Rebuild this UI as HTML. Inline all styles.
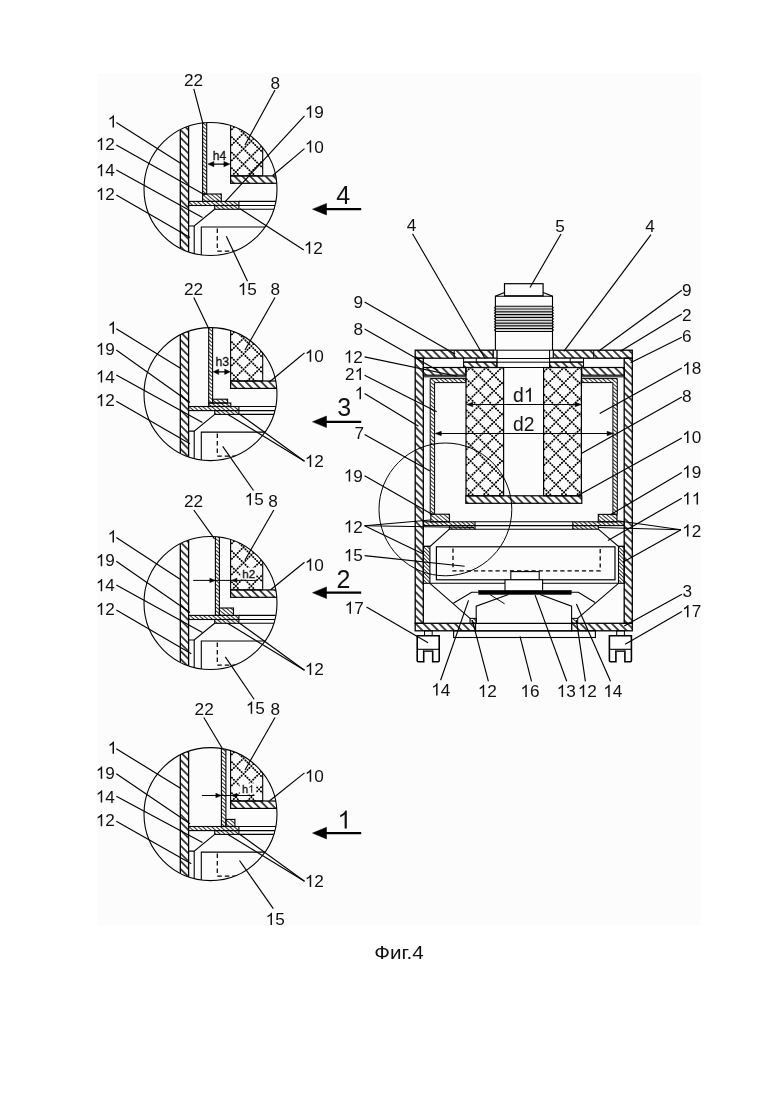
<!DOCTYPE html>
<html><head><meta charset="utf-8"><title>Фиг.4</title>
<style>
html,body{margin:0;padding:0;background:#fff;width:780px;height:1103px;overflow:hidden;position:relative}
svg text{font-family:"Liberation Sans",sans-serif;stroke:none;fill:#111}
svg{filter:grayscale(1)}
</style></head><body>
<svg width="780" height="1103" viewBox="0 0 780 1103" style="position:absolute;left:0;top:0" stroke="#000" fill="#000"><defs>
<pattern id="hm" patternUnits="userSpaceOnUse" width="10" height="5.55" patternTransform="rotate(45)"><line x1="0" y1="2.77" x2="10" y2="2.77" stroke="#000" stroke-width="1.4"/></pattern>
<pattern id="hd" patternUnits="userSpaceOnUse" width="10" height="5.5" patternTransform="rotate(45)"><line x1="0" y1="2.75" x2="10" y2="2.75" stroke="#000" stroke-width="1.4"/></pattern>
<pattern id="hf" patternUnits="userSpaceOnUse" width="10" height="2.9" patternTransform="rotate(40)"><line x1="0" y1="1.45" x2="10" y2="1.45" stroke="#000" stroke-width="0.8"/></pattern>
<pattern id="hf2" patternUnits="userSpaceOnUse" width="10" height="2.6" patternTransform="rotate(45)"><line x1="0" y1="1.3" x2="10" y2="1.3" stroke="#000" stroke-width="0.8"/></pattern>
<pattern id="xm" patternUnits="userSpaceOnUse" x="478.3" y="375.3" width="15.7" height="15.7"><path d="M0 0 L15.7 15.7 M15.7 0 L0 15.7" stroke="#000" stroke-width="1.35" stroke-linecap="round" stroke-dasharray="0.35 1.87" fill="none"/></pattern>
<pattern id="xd" patternUnits="userSpaceOnUse" x="236" y="130" width="13.5" height="13.5"><path d="M0 0 L13.5 13.5 M13.5 0 L0 13.5" stroke="#000" stroke-width="1.35" stroke-dasharray="1.5 1.0" fill="none"/></pattern>
</defs><rect x="97" y="73" width="604" height="853" fill="#fcfcfc" stroke="none"/><g stroke="#000"><clipPath id="c0"><circle cx="210.5" cy="189" r="66.5"/></clipPath>
<g clip-path="url(#c0)">
<rect x="180.3" y="120.5" width="8.3" height="137" fill="url(#hd)" stroke-width="1.3"/>
<rect x="188.6" y="201.4" width="50.3" height="4.1" fill="url(#hf)" stroke-width="1.1"/>
<line x1="238.9" y1="201.4" x2="279" y2="201.4" stroke-width="1.1"/>
<line x1="238.9" y1="205.5" x2="279" y2="205.5" stroke-width="1.1"/>
<rect x="214.7" y="205.5" width="24.2" height="3.8" fill="url(#hf)" stroke-width="1.1"/>
<line x1="238.9" y1="209.3" x2="279" y2="209.3" stroke-width="1.1"/>
<polyline points="188.6,226 194.2,226 214.7,209.3" fill="none" stroke-width="1.1"/>
<line x1="194.2" y1="226" x2="194.2" y2="257.5" stroke-width="1.1"/>
<polyline points="201.3,257.5 201.3,227 279,227" fill="none" stroke-width="1.1"/>
<line x1="217.3" y1="228.4" x2="217.3" y2="251" stroke-width="1.25" stroke-dasharray="4.5 3"/>
<line x1="217.3" y1="251" x2="240" y2="251" stroke-width="1.25" stroke-dasharray="4.5 3"/>
<clipPath id="xc1"><rect x="230.6" y="120.5" width="32.1" height="55.4"/></clipPath>
<path clip-path="url(#xc1)" d="M189.2 17L293.7 121.5M189.2 32.5L293.7 137M189.2 48L293.7 152.5M189.2 63.5L293.7 168M189.2 79L293.7 183.5M189.2 94.5L293.7 199M189.2 110L293.7 214.5M189.2 125.5L293.7 230M189.2 141L293.7 245.5M189.2 156.5L293.7 261M189.2 141L293.7 36.5M189.2 156.5L293.7 52M189.2 172L293.7 67.5M189.2 187.5L293.7 83M189.2 203L293.7 98.5M189.2 218.5L293.7 114M189.2 234L293.7 129.5M189.2 249.5L293.7 145M189.2 265L293.7 160.5" fill="none" stroke-width="1.8" stroke-linecap="round" stroke-dasharray="0.35 2.39"/>
<rect x="230.6" y="120.5" width="32.1" height="55.4" fill="none" stroke-width="1.1"/>
<rect x="230.6" y="175.9" width="48.4" height="7.4" fill="url(#hd)" stroke-width="1.2"/>
<rect x="202.6" y="120.5" width="4.1" height="73.5" fill="url(#hf)" stroke-width="1.1"/>
<rect x="202.6" y="194" width="18.7" height="7.4" fill="url(#hf)" stroke-width="1.1"/>
<line x1="210" y1="164.1" x2="228" y2="164.1" stroke-width="1.2"/>
<polygon points="207.9,164.1 213.9,161.5 213.9,166.7" fill="#000" stroke-width="0.5"/>
<polygon points="229.9,164.1 223.9,166.7 223.9,161.5" fill="#000" stroke-width="0.5"/>
<text x="212.8" y="159.5" font-size="12.0" text-anchor="start" style="stroke:#111;stroke-width:0.3px">h4</text>
</g>
<circle cx="210.5" cy="189" r="66.5" fill="none" stroke-width="1.1"/>
<clipPath id="c1"><circle cx="210.5" cy="394.1" r="66.5"/></clipPath>
<g clip-path="url(#c1)">
<rect x="180.3" y="325.6" width="8.3" height="137" fill="url(#hd)" stroke-width="1.3"/>
<rect x="188.6" y="406.5" width="50.3" height="4.1" fill="url(#hf)" stroke-width="1.1"/>
<line x1="238.9" y1="406.5" x2="279" y2="406.5" stroke-width="1.1"/>
<line x1="238.9" y1="410.6" x2="279" y2="410.6" stroke-width="1.1"/>
<rect x="214.7" y="410.6" width="24.2" height="3.8" fill="url(#hf)" stroke-width="1.1"/>
<line x1="238.9" y1="414.4" x2="279" y2="414.4" stroke-width="1.1"/>
<polyline points="188.6,431.1 194.2,431.1 214.7,414.4" fill="none" stroke-width="1.1"/>
<line x1="194.2" y1="431.1" x2="194.2" y2="462.6" stroke-width="1.1"/>
<polyline points="201.3,462.6 201.3,432.1 279,432.1" fill="none" stroke-width="1.1"/>
<line x1="217.3" y1="433.5" x2="217.3" y2="456.1" stroke-width="1.25" stroke-dasharray="4.5 3"/>
<line x1="217.3" y1="456.1" x2="240" y2="456.1" stroke-width="1.25" stroke-dasharray="4.5 3"/>
<clipPath id="xc2"><rect x="230.6" y="325.6" width="32.1" height="55.4"/></clipPath>
<path clip-path="url(#xc2)" d="M189.2 222.1L293.7 326.6M189.2 237.6L293.7 342.1M189.2 253.1L293.7 357.6M189.2 268.6L293.7 373.1M189.2 284.1L293.7 388.6M189.2 299.6L293.7 404.1M189.2 315.1L293.7 419.6M189.2 330.6L293.7 435.1M189.2 346.1L293.7 450.6M189.2 361.6L293.7 466.1M189.2 346.1L293.7 241.6M189.2 361.6L293.7 257.1M189.2 377.1L293.7 272.6M189.2 392.6L293.7 288.1M189.2 408.1L293.7 303.6M189.2 423.6L293.7 319.1M189.2 439.1L293.7 334.6M189.2 454.6L293.7 350.1M189.2 470.1L293.7 365.6" fill="none" stroke-width="1.8" stroke-linecap="round" stroke-dasharray="0.35 2.39"/>
<rect x="230.6" y="325.6" width="32.1" height="55.4" fill="none" stroke-width="1.1"/>
<rect x="230.6" y="381" width="48.4" height="7.4" fill="url(#hd)" stroke-width="1.2"/>
<rect x="208.7" y="325.6" width="3.9" height="77.4" fill="url(#hf)" stroke-width="1.1"/>
<rect x="212.6" y="399.2" width="15" height="3.8" fill="url(#hf)" stroke-width="1.1"/>
<rect x="208.7" y="403" width="22.1" height="3.5" fill="url(#hf)" stroke-width="1.1"/>
<line x1="215" y1="371.8" x2="228.5" y2="371.8" stroke-width="1.2"/>
<polygon points="213.2,371.8 218.7,369.2 218.7,374.4" fill="#000" stroke-width="0.5"/>
<polygon points="230.2,371.8 224.7,374.4 224.7,369.2" fill="#000" stroke-width="0.5"/>
<text x="215.6" y="366.4" font-size="12.2" text-anchor="start" style="stroke:#111;stroke-width:0.3px">h3</text>
</g>
<circle cx="210.5" cy="394.1" r="66.5" fill="none" stroke-width="1.1"/>
<clipPath id="c2"><circle cx="210.5" cy="603" r="66.5"/></clipPath>
<g clip-path="url(#c2)">
<rect x="180.3" y="534.5" width="8.3" height="137" fill="url(#hd)" stroke-width="1.3"/>
<rect x="188.6" y="615.4" width="50.3" height="4.1" fill="url(#hf)" stroke-width="1.1"/>
<line x1="238.9" y1="615.4" x2="279" y2="615.4" stroke-width="1.1"/>
<line x1="238.9" y1="619.5" x2="279" y2="619.5" stroke-width="1.1"/>
<rect x="214.7" y="619.5" width="24.2" height="3.8" fill="url(#hf)" stroke-width="1.1"/>
<line x1="238.9" y1="623.3" x2="279" y2="623.3" stroke-width="1.1"/>
<polyline points="188.6,640 194.2,640 214.7,623.3" fill="none" stroke-width="1.1"/>
<line x1="194.2" y1="640" x2="194.2" y2="671.5" stroke-width="1.1"/>
<polyline points="201.3,671.5 201.3,641 279,641" fill="none" stroke-width="1.1"/>
<line x1="217.3" y1="642.4" x2="217.3" y2="665" stroke-width="1.25" stroke-dasharray="4.5 3"/>
<line x1="217.3" y1="665" x2="240" y2="665" stroke-width="1.25" stroke-dasharray="4.5 3"/>
<clipPath id="xc3"><rect x="230.6" y="534.5" width="32.1" height="55.4"/></clipPath>
<path clip-path="url(#xc3)" d="M189.2 431L293.7 535.5M189.2 446.5L293.7 551M189.2 462L293.7 566.5M189.2 477.5L293.7 582M189.2 493L293.7 597.5M189.2 508.5L293.7 613M189.2 524L293.7 628.5M189.2 539.5L293.7 644M189.2 555L293.7 659.5M189.2 570.5L293.7 675M189.2 555L293.7 450.5M189.2 570.5L293.7 466M189.2 586L293.7 481.5M189.2 601.5L293.7 497M189.2 617L293.7 512.5M189.2 632.5L293.7 528M189.2 648L293.7 543.5M189.2 663.5L293.7 559M189.2 679L293.7 574.5" fill="none" stroke-width="1.8" stroke-linecap="round" stroke-dasharray="0.35 2.39"/>
<rect x="230.6" y="534.5" width="32.1" height="55.4" fill="none" stroke-width="1.1"/>
<rect x="230.6" y="589.9" width="48.4" height="7.4" fill="url(#hd)" stroke-width="1.2"/>
<rect x="215.4" y="534.5" width="4" height="80.9" fill="url(#hf)" stroke-width="1.1"/>
<rect x="219.4" y="608" width="14.1" height="7.4" fill="url(#hf)" stroke-width="1.1"/>
<line x1="193.2" y1="580.4" x2="257" y2="580.4" stroke-width="1.0"/>
<polygon points="215.3,580.4 209.8,582.6 209.8,578.2" fill="#000" stroke-width="0.5"/>
<polygon points="231.5,580.4 237,578.2 237,582.6" fill="#000" stroke-width="0.5"/>
<rect x="240.4" y="568" width="15.8" height="11.4" fill="#fcfcfc" stroke-width="0" stroke="none"/>
<text x="242.3" y="577.7" font-size="11.6" text-anchor="start" style="stroke:#111;stroke-width:0.3px">h2</text>
</g>
<circle cx="210.5" cy="603" r="66.5" fill="none" stroke-width="1.1"/>
<clipPath id="c3"><circle cx="210.5" cy="814.1" r="66.5"/></clipPath>
<g clip-path="url(#c3)">
<rect x="180.3" y="745.6" width="8.3" height="137" fill="url(#hd)" stroke-width="1.3"/>
<rect x="188.6" y="826.5" width="50.3" height="4.1" fill="url(#hf)" stroke-width="1.1"/>
<line x1="238.9" y1="826.5" x2="279" y2="826.5" stroke-width="1.1"/>
<line x1="238.9" y1="830.6" x2="279" y2="830.6" stroke-width="1.1"/>
<rect x="214.7" y="830.6" width="24.2" height="3.8" fill="url(#hf)" stroke-width="1.1"/>
<line x1="238.9" y1="834.4" x2="279" y2="834.4" stroke-width="1.1"/>
<polyline points="188.6,851.1 194.2,851.1 214.7,834.4" fill="none" stroke-width="1.1"/>
<line x1="194.2" y1="851.1" x2="194.2" y2="882.6" stroke-width="1.1"/>
<polyline points="201.3,882.6 201.3,852.1 279,852.1" fill="none" stroke-width="1.1"/>
<line x1="217.3" y1="853.5" x2="217.3" y2="876.1" stroke-width="1.25" stroke-dasharray="4.5 3"/>
<line x1="217.3" y1="876.1" x2="240" y2="876.1" stroke-width="1.25" stroke-dasharray="4.5 3"/>
<clipPath id="xc4"><rect x="230.6" y="745.6" width="32.1" height="55.4"/></clipPath>
<path clip-path="url(#xc4)" d="M189.2 642.1L293.7 746.6M189.2 657.6L293.7 762.1M189.2 673.1L293.7 777.6M189.2 688.6L293.7 793.1M189.2 704.1L293.7 808.6M189.2 719.6L293.7 824.1M189.2 735.1L293.7 839.6M189.2 750.6L293.7 855.1M189.2 766.1L293.7 870.6M189.2 781.6L293.7 886.1M189.2 766.1L293.7 661.6M189.2 781.6L293.7 677.1M189.2 797.1L293.7 692.6M189.2 812.6L293.7 708.1M189.2 828.1L293.7 723.6M189.2 843.6L293.7 739.1M189.2 859.1L293.7 754.6M189.2 874.6L293.7 770.1M189.2 890.1L293.7 785.6" fill="none" stroke-width="1.8" stroke-linecap="round" stroke-dasharray="0.35 2.39"/>
<rect x="230.6" y="745.6" width="32.1" height="55.4" fill="none" stroke-width="1.1"/>
<rect x="230.6" y="801" width="48.4" height="7.4" fill="url(#hd)" stroke-width="1.2"/>
<rect x="221.4" y="745.6" width="4.5" height="80.9" fill="url(#hf)" stroke-width="1.1"/>
<rect x="225.9" y="819.4" width="9" height="7.1" fill="url(#hf)" stroke-width="1.1"/>
<line x1="201.9" y1="795.5" x2="254.4" y2="795.5" stroke-width="1.0"/>
<polygon points="221.3,795.5 215.8,797.7 215.8,793.3" fill="#000" stroke-width="0.5"/>
<polygon points="231.5,795.5 237,793.3 237,797.7" fill="#000" stroke-width="0.5"/>
<rect x="239.6" y="783.3" width="16.6" height="11" fill="#fcfcfc" stroke-width="0" stroke="none"/>
<text x="242" y="792.8" font-size="11.0" style="stroke:#111;stroke-width:0.3px">h</text>
<path d="M763 0H583V1147Q518 1085 412 1023T223 930V1104Q375 1175 489 1276T650 1472H763Z" transform="translate(248.12 792.8) scale(0.00537 -0.00537)" stroke="none" fill="#111"/>
</g>
<circle cx="210.5" cy="814.1" r="66.5" fill="none" stroke-width="1.1"/>
<text x="184" y="86.3" font-size="17.2" text-anchor="start">22</text>
<line x1="193.8" y1="88.8" x2="203" y2="123.8" stroke-width="1.15"/>
<text x="270.6" y="88.8" font-size="17.2" text-anchor="start">8</text>
<line x1="275" y1="90" x2="245" y2="145" stroke-width="1.15"/>
<path d="M763 0H583V1147Q518 1085 412 1023T223 930V1104Q375 1175 489 1276T650 1472H763Z" transform="translate(107.6 127.5) scale(0.00840 -0.00840)" stroke="none" fill="#111"/>
<line x1="116.3" y1="122.5" x2="181.3" y2="163.8" stroke-width="1.15"/>
<path d="M763 0H583V1147Q518 1085 412 1023T223 930V1104Q375 1175 489 1276T650 1472H763Z" transform="translate(95.8 150) scale(0.00840 -0.00840)" stroke="none" fill="#111"/>
<text x="105.36" y="150" font-size="17.2">2</text>
<line x1="116.3" y1="145" x2="205" y2="195" stroke-width="1.15"/>
<path d="M763 0H583V1147Q518 1085 412 1023T223 930V1104Q375 1175 489 1276T650 1472H763Z" transform="translate(95.8 176.3) scale(0.00840 -0.00840)" stroke="none" fill="#111"/>
<text x="105.36" y="176.3" font-size="17.2">4</text>
<line x1="116.3" y1="170" x2="202.5" y2="217.5" stroke-width="1.15"/>
<path d="M763 0H583V1147Q518 1085 412 1023T223 930V1104Q375 1175 489 1276T650 1472H763Z" transform="translate(95.8 200) scale(0.00840 -0.00840)" stroke="none" fill="#111"/>
<text x="105.36" y="200" font-size="17.2">2</text>
<line x1="116.3" y1="195" x2="190" y2="237.5" stroke-width="1.15"/>
<path d="M763 0H583V1147Q518 1085 412 1023T223 930V1104Q375 1175 489 1276T650 1472H763Z" transform="translate(304.8 117.8) scale(0.00840 -0.00840)" stroke="none" fill="#111"/>
<text x="314.36" y="117.8" font-size="17.2">9</text>
<line x1="304.5" y1="115.8" x2="224.8" y2="202.1" stroke-width="1.15"/>
<path d="M763 0H583V1147Q518 1085 412 1023T223 930V1104Q375 1175 489 1276T650 1472H763Z" transform="translate(304.8 152.6) scale(0.00840 -0.00840)" stroke="none" fill="#111"/>
<text x="314.36" y="152.6" font-size="17.2">0</text>
<line x1="304.5" y1="148.6" x2="272.7" y2="175.5" stroke-width="1.15"/>
<path d="M763 0H583V1147Q518 1085 412 1023T223 930V1104Q375 1175 489 1276T650 1472H763Z" transform="translate(303.8 253.8) scale(0.00840 -0.00840)" stroke="none" fill="#111"/>
<text x="313.36" y="253.8" font-size="17.2">2</text>
<line x1="303.8" y1="250" x2="240" y2="208.8" stroke-width="1.15"/>
<path d="M763 0H583V1147Q518 1085 412 1023T223 930V1104Q375 1175 489 1276T650 1472H763Z" transform="translate(237.8 295) scale(0.00840 -0.00840)" stroke="none" fill="#111"/>
<text x="247.36" y="295" font-size="17.2">5</text>
<line x1="247.5" y1="281.3" x2="226.3" y2="236.3" stroke-width="1.15"/>
<text x="184" y="294.5" font-size="17.2" text-anchor="start">22</text>
<line x1="193.8" y1="297.5" x2="208.8" y2="328.8" stroke-width="1.15"/>
<text x="270.6" y="295" font-size="17.2" text-anchor="start">8</text>
<line x1="275" y1="297.5" x2="245" y2="350" stroke-width="1.15"/>
<path d="M763 0H583V1147Q518 1085 412 1023T223 930V1104Q375 1175 489 1276T650 1472H763Z" transform="translate(107.6 333.8) scale(0.00840 -0.00840)" stroke="none" fill="#111"/>
<line x1="116.3" y1="328.8" x2="181.3" y2="368.8" stroke-width="1.15"/>
<path d="M763 0H583V1147Q518 1085 412 1023T223 930V1104Q375 1175 489 1276T650 1472H763Z" transform="translate(95.8 355) scale(0.00840 -0.00840)" stroke="none" fill="#111"/>
<text x="105.36" y="355" font-size="17.2">9</text>
<line x1="116.3" y1="350" x2="190" y2="402.5" stroke-width="1.15"/>
<path d="M763 0H583V1147Q518 1085 412 1023T223 930V1104Q375 1175 489 1276T650 1472H763Z" transform="translate(95.8 382.5) scale(0.00840 -0.00840)" stroke="none" fill="#111"/>
<text x="105.36" y="382.5" font-size="17.2">4</text>
<line x1="116.3" y1="375" x2="202.5" y2="422.5" stroke-width="1.15"/>
<path d="M763 0H583V1147Q518 1085 412 1023T223 930V1104Q375 1175 489 1276T650 1472H763Z" transform="translate(95.8 406.3) scale(0.00840 -0.00840)" stroke="none" fill="#111"/>
<text x="105.36" y="406.3" font-size="17.2">2</text>
<line x1="116.3" y1="401.3" x2="190" y2="443.8" stroke-width="1.15"/>
<path d="M763 0H583V1147Q518 1085 412 1023T223 930V1104Q375 1175 489 1276T650 1472H763Z" transform="translate(304.8 361.8) scale(0.00840 -0.00840)" stroke="none" fill="#111"/>
<text x="314.36" y="361.8" font-size="17.2">0</text>
<line x1="304.5" y1="352.9" x2="269.7" y2="381.7" stroke-width="1.15"/>
<path d="M763 0H583V1147Q518 1085 412 1023T223 930V1104Q375 1175 489 1276T650 1472H763Z" transform="translate(304.8 467.1) scale(0.00840 -0.00840)" stroke="none" fill="#111"/>
<text x="314.36" y="467.1" font-size="17.2">2</text>
<line x1="304.5" y1="461.2" x2="239.7" y2="414.3" stroke-width="1.15"/>
<line x1="304.5" y1="461.2" x2="227.6" y2="414.3" stroke-width="1.15"/>
<path d="M763 0H583V1147Q518 1085 412 1023T223 930V1104Q375 1175 489 1276T650 1472H763Z" transform="translate(244.6 505.3) scale(0.00840 -0.00840)" stroke="none" fill="#111"/>
<text x="254.16" y="505.3" font-size="17.2">5</text>
<line x1="253.5" y1="490.5" x2="222.7" y2="446.3" stroke-width="1.15"/>
<text x="184" y="507" font-size="17.2" text-anchor="start">22</text>
<line x1="193.8" y1="510" x2="214.5" y2="538.8" stroke-width="1.15"/>
<text x="268.2" y="507" font-size="17.2" text-anchor="start">8</text>
<line x1="273.8" y1="510" x2="245" y2="560" stroke-width="1.15"/>
<path d="M763 0H583V1147Q518 1085 412 1023T223 930V1104Q375 1175 489 1276T650 1472H763Z" transform="translate(107.6 542.5) scale(0.00840 -0.00840)" stroke="none" fill="#111"/>
<line x1="116.3" y1="537.5" x2="181.3" y2="580" stroke-width="1.15"/>
<path d="M763 0H583V1147Q518 1085 412 1023T223 930V1104Q375 1175 489 1276T650 1472H763Z" transform="translate(95.8 566.3) scale(0.00840 -0.00840)" stroke="none" fill="#111"/>
<text x="105.36" y="566.3" font-size="17.2">9</text>
<line x1="116.3" y1="561.3" x2="190" y2="612.5" stroke-width="1.15"/>
<path d="M763 0H583V1147Q518 1085 412 1023T223 930V1104Q375 1175 489 1276T650 1472H763Z" transform="translate(95.8 591.3) scale(0.00840 -0.00840)" stroke="none" fill="#111"/>
<text x="105.36" y="591.3" font-size="17.2">4</text>
<line x1="116.3" y1="585" x2="202.5" y2="632.5" stroke-width="1.15"/>
<path d="M763 0H583V1147Q518 1085 412 1023T223 930V1104Q375 1175 489 1276T650 1472H763Z" transform="translate(95.8 615) scale(0.00840 -0.00840)" stroke="none" fill="#111"/>
<text x="105.36" y="615" font-size="17.2">2</text>
<line x1="116.3" y1="610" x2="191.3" y2="653.8" stroke-width="1.15"/>
<path d="M763 0H583V1147Q518 1085 412 1023T223 930V1104Q375 1175 489 1276T650 1472H763Z" transform="translate(304.8 570.8) scale(0.00840 -0.00840)" stroke="none" fill="#111"/>
<text x="314.36" y="570.8" font-size="17.2">0</text>
<line x1="304.5" y1="562.3" x2="270.7" y2="589.7" stroke-width="1.15"/>
<path d="M763 0H583V1147Q518 1085 412 1023T223 930V1104Q375 1175 489 1276T650 1472H763Z" transform="translate(304.8 675.1) scale(0.00840 -0.00840)" stroke="none" fill="#111"/>
<text x="314.36" y="675.1" font-size="17.2">2</text>
<line x1="304.5" y1="670.2" x2="239.7" y2="623.2" stroke-width="1.15"/>
<line x1="304.5" y1="670.2" x2="227.6" y2="623.2" stroke-width="1.15"/>
<text x="194.6" y="714.5" font-size="17.2" text-anchor="start">22</text>
<line x1="203.8" y1="717.5" x2="222.5" y2="748.8" stroke-width="1.15"/>
<path d="M763 0H583V1147Q518 1085 412 1023T223 930V1104Q375 1175 489 1276T650 1472H763Z" transform="translate(245.8 713.8) scale(0.00840 -0.00840)" stroke="none" fill="#111"/>
<text x="255.36" y="713.8" font-size="17.2">5</text>
<line x1="254.1" y1="699.2" x2="225.3" y2="656.9" stroke-width="1.15"/>
<text x="270.6" y="714.5" font-size="17.2" text-anchor="start">8</text>
<line x1="275" y1="717.5" x2="245" y2="770" stroke-width="1.15"/>
<path d="M763 0H583V1147Q518 1085 412 1023T223 930V1104Q375 1175 489 1276T650 1472H763Z" transform="translate(107.6 753.8) scale(0.00840 -0.00840)" stroke="none" fill="#111"/>
<line x1="116.3" y1="748.8" x2="181.3" y2="788.8" stroke-width="1.15"/>
<path d="M763 0H583V1147Q518 1085 412 1023T223 930V1104Q375 1175 489 1276T650 1472H763Z" transform="translate(95.8 778.8) scale(0.00840 -0.00840)" stroke="none" fill="#111"/>
<text x="105.36" y="778.8" font-size="17.2">9</text>
<line x1="116.3" y1="773.8" x2="190" y2="823.8" stroke-width="1.15"/>
<path d="M763 0H583V1147Q518 1085 412 1023T223 930V1104Q375 1175 489 1276T650 1472H763Z" transform="translate(95.8 802.5) scale(0.00840 -0.00840)" stroke="none" fill="#111"/>
<text x="105.36" y="802.5" font-size="17.2">4</text>
<line x1="116.3" y1="796.3" x2="202.5" y2="842.5" stroke-width="1.15"/>
<path d="M763 0H583V1147Q518 1085 412 1023T223 930V1104Q375 1175 489 1276T650 1472H763Z" transform="translate(95.8 826.3) scale(0.00840 -0.00840)" stroke="none" fill="#111"/>
<text x="105.36" y="826.3" font-size="17.2">2</text>
<line x1="116.3" y1="821.3" x2="191.3" y2="863.8" stroke-width="1.15"/>
<path d="M763 0H583V1147Q518 1085 412 1023T223 930V1104Q375 1175 489 1276T650 1472H763Z" transform="translate(304.8 781.8) scale(0.00840 -0.00840)" stroke="none" fill="#111"/>
<text x="314.36" y="781.8" font-size="17.2">0</text>
<line x1="304.5" y1="772.9" x2="269.7" y2="800.7" stroke-width="1.15"/>
<path d="M763 0H583V1147Q518 1085 412 1023T223 930V1104Q375 1175 489 1276T650 1472H763Z" transform="translate(304.8 887.1) scale(0.00840 -0.00840)" stroke="none" fill="#111"/>
<text x="314.36" y="887.1" font-size="17.2">2</text>
<line x1="304.5" y1="881.2" x2="239.7" y2="834.3" stroke-width="1.15"/>
<line x1="304.5" y1="881.2" x2="227.6" y2="834.3" stroke-width="1.15"/>
<path d="M763 0H583V1147Q518 1085 412 1023T223 930V1104Q375 1175 489 1276T650 1472H763Z" transform="translate(265.6 925.1) scale(0.00840 -0.00840)" stroke="none" fill="#111"/>
<text x="275.16" y="925.1" font-size="17.2">5</text>
<line x1="273.3" y1="908.7" x2="239.5" y2="860.5" stroke-width="1.15"/>
<line x1="318" y1="209.2" x2="361.2" y2="209.2" stroke-width="2.2"/>
<polygon points="312.5,209.2 326.5,203.4 326.5,215" fill="#000" stroke-width="0.5"/>
<text x="336.3" y="204.3" font-size="25" text-anchor="start">4</text>
<line x1="318" y1="421.8" x2="361.2" y2="421.8" stroke-width="2.2"/>
<polygon points="312.5,421.8 326.5,416 326.5,427.6" fill="#000" stroke-width="0.5"/>
<text x="337.3" y="416.4" font-size="25" text-anchor="start">3</text>
<line x1="318" y1="592.7" x2="361.2" y2="592.7" stroke-width="2.2"/>
<polygon points="312.5,592.7 326.5,586.9 326.5,598.5" fill="#000" stroke-width="0.5"/>
<text x="336.5" y="587.7" font-size="25" text-anchor="start">2</text>
<line x1="318" y1="833.1" x2="361.2" y2="833.1" stroke-width="2.2"/>
<polygon points="312.5,833.1 326.5,827.3 326.5,838.9" fill="#000" stroke-width="0.5"/>
<path d="M763 0H583V1147Q518 1085 412 1023T223 930V1104Q375 1175 489 1276T650 1472H763Z" transform="translate(337.5 828.5) scale(0.01221 -0.01221)" stroke="none" fill="#111"/>
<rect x="415.2" y="350.2" width="78.1" height="8" fill="url(#hm)" stroke-width="1.3"/>
<rect x="553.2" y="350.2" width="79.1" height="8" fill="url(#hm)" stroke-width="1.3"/>
<line x1="454.2" y1="350.6" x2="454.2" y2="357.8" stroke-width="1.0"/>
<line x1="593.7" y1="350.6" x2="593.7" y2="357.8" stroke-width="1.0"/>
<rect x="415.2" y="358.2" width="8.1" height="265.1" fill="url(#hm)" stroke-width="1.3"/>
<rect x="624.2" y="358.2" width="8.1" height="265.1" fill="url(#hm)" stroke-width="1.3"/>
<rect x="415.2" y="623.3" width="60.3" height="7.5" fill="url(#hm)" stroke-width="1.3"/>
<rect x="571.7" y="623.3" width="60.6" height="7.5" fill="url(#hm)" stroke-width="1.3"/>
<line x1="475.5" y1="623.3" x2="571.7" y2="623.3" stroke-width="1.2"/>
<line x1="475.5" y1="630.8" x2="571.7" y2="630.8" stroke-width="1.2"/>
<rect x="504.5" y="283.7" width="38.6" height="12.1" fill="none" stroke-width="1.2"/>
<polyline points="495.4,350 495.4,296.2 504.5,292.4" fill="none" stroke-width="1.1"/>
<polyline points="552.5,350 552.5,296.2 543.1,292.4" fill="none" stroke-width="1.1"/>
<line x1="495.4" y1="296.2" x2="552.5" y2="296.2" stroke-width="1.1"/>
<line x1="495.6" y1="306.2" x2="552.3" y2="306.2" stroke-width="1.15"/>
<line x1="495.6" y1="309.01" x2="552.3" y2="309.01" stroke-width="1.15"/>
<line x1="495.6" y1="311.82" x2="552.3" y2="311.82" stroke-width="1.15"/>
<line x1="495.6" y1="314.63" x2="552.3" y2="314.63" stroke-width="1.15"/>
<line x1="495.6" y1="317.44" x2="552.3" y2="317.44" stroke-width="1.15"/>
<line x1="495.6" y1="320.25" x2="552.3" y2="320.25" stroke-width="1.15"/>
<line x1="495.6" y1="323.06" x2="552.3" y2="323.06" stroke-width="1.15"/>
<line x1="495.6" y1="325.87" x2="552.3" y2="325.87" stroke-width="1.15"/>
<line x1="495.6" y1="328.68" x2="552.3" y2="328.68" stroke-width="1.15"/>
<line x1="495.6" y1="331.49" x2="552.3" y2="331.49" stroke-width="1.15"/>
<line x1="495.6" y1="307.61" x2="552.3" y2="307.61" stroke-width="0.5" stroke="#aaa"/>
<line x1="495.6" y1="310.41" x2="552.3" y2="310.41" stroke-width="0.5" stroke="#aaa"/>
<line x1="495.6" y1="313.23" x2="552.3" y2="313.23" stroke-width="0.5" stroke="#aaa"/>
<line x1="495.6" y1="316.03" x2="552.3" y2="316.03" stroke-width="0.5" stroke="#aaa"/>
<line x1="495.6" y1="318.85" x2="552.3" y2="318.85" stroke-width="0.5" stroke="#aaa"/>
<line x1="495.6" y1="321.65" x2="552.3" y2="321.65" stroke-width="0.5" stroke="#aaa"/>
<line x1="495.6" y1="324.47" x2="552.3" y2="324.47" stroke-width="0.5" stroke="#aaa"/>
<line x1="495.6" y1="327.27" x2="552.3" y2="327.27" stroke-width="0.5" stroke="#aaa"/>
<line x1="495.6" y1="330.09" x2="552.3" y2="330.09" stroke-width="0.5" stroke="#aaa"/>
<path d="M495.6 306.2 Q493.2 307.61 495.6 309.01 Q493.2 310.41 495.6 311.82 Q493.2 313.23 495.6 314.63 Q493.2 316.03 495.6 317.44 Q493.2 318.85 495.6 320.25 Q493.2 321.65 495.6 323.06 Q493.2 324.47 495.6 325.87 Q493.2 327.27 495.6 328.68 Q493.2 330.09 495.6 331.49 M552.3 306.2 Q554.7 307.61 552.3 309.01 Q554.7 310.41 552.3 311.82 Q554.7 313.23 552.3 314.63 Q554.7 316.03 552.3 317.44 Q554.7 318.85 552.3 320.25 Q554.7 321.65 552.3 323.06 Q554.7 324.47 552.3 325.87 Q554.7 327.27 552.3 328.68 Q554.7 330.09 552.3 331.49" fill="none" stroke-width="1.0"/>
<line x1="496.9" y1="350.2" x2="549.6" y2="350.2" stroke-width="1.0"/>
<line x1="496.9" y1="358.5" x2="549.6" y2="358.5" stroke-width="1.0"/>
<line x1="496.9" y1="362.2" x2="549.6" y2="362.2" stroke-width="1.0"/>
<line x1="496.9" y1="367.5" x2="549.6" y2="367.5" stroke-width="1.0"/>
<line x1="496.9" y1="350.2" x2="496.9" y2="367.5" stroke-width="1.1"/>
<line x1="549.6" y1="350.2" x2="549.6" y2="367.5" stroke-width="1.1"/>
<rect x="493.3" y="350.2" width="3.6" height="8" fill="#fff" stroke-width="1.0"/>
<rect x="549.6" y="350.2" width="3.6" height="8" fill="#fff" stroke-width="1.0"/>
<rect x="463.6" y="358.2" width="33.3" height="3.9" fill="#fff" stroke-width="1.0"/>
<rect x="549.6" y="358.2" width="33.9" height="3.9" fill="#fff" stroke-width="1.0"/>
<line x1="476.3" y1="358.2" x2="476.3" y2="362.1" stroke-width="1.0"/>
<line x1="570.2" y1="358.2" x2="570.2" y2="362.1" stroke-width="1.0"/>
<rect x="463.6" y="362.1" width="33.3" height="5.4" fill="url(#hm)" stroke-width="1.1"/>
<rect x="549.6" y="362.1" width="33.9" height="5.4" fill="url(#hm)" stroke-width="1.1"/>
<rect x="423.3" y="367.5" width="42.5" height="7.7" fill="url(#hm)" stroke-width="1.2"/>
<rect x="581.8" y="367.5" width="42.4" height="7.7" fill="url(#hm)" stroke-width="1.2"/>
<line x1="423.3" y1="376.8" x2="465.8" y2="376.8" stroke-width="1.0"/>
<line x1="581.8" y1="376.8" x2="624.2" y2="376.8" stroke-width="1.0"/>
<clipPath id="xc5"><rect x="466" y="367.5" width="37.6" height="128.3"/></clipPath>
<path clip-path="url(#xc5)" d="M431.5 266.1L534.8 369.4M431.5 281.7L534.8 385M431.5 297.3L534.8 400.6M431.5 312.9L534.8 416.2M431.5 328.5L534.8 431.8M431.5 344.1L534.8 447.4M431.5 359.7L534.8 463M431.5 375.3L534.8 478.6M431.5 390.9L534.8 494.2M431.5 406.5L534.8 509.8M431.5 422.1L534.8 525.4M431.5 437.7L534.8 541M431.5 453.3L534.8 556.6M431.5 468.9L534.8 572.2M431.5 484.5L534.8 587.8M431.5 375.3L534.8 272M431.5 390.9L534.8 287.6M431.5 406.5L534.8 303.2M431.5 422.1L534.8 318.8M431.5 437.7L534.8 334.4M431.5 453.3L534.8 350M431.5 468.9L534.8 365.6M431.5 484.5L534.8 381.2M431.5 500.1L534.8 396.8M431.5 515.7L534.8 412.4M431.5 531.3L534.8 428M431.5 546.9L534.8 443.6M431.5 562.5L534.8 459.2M431.5 578.1L534.8 474.8M431.5 593.7L534.8 490.4" fill="none" stroke-width="1.8" stroke-linecap="round" stroke-dasharray="0.35 2.41"/>
<rect x="466" y="367.5" width="37.6" height="128.3" fill="none" stroke-width="1.2"/>
<clipPath id="xc6"><rect x="543.6" y="367.5" width="37.8" height="128.3"/></clipPath>
<path clip-path="url(#xc6)" d="M509.2 266.1L612.6 369.5M509.2 281.7L612.6 385.1M509.2 297.3L612.6 400.7M509.2 312.9L612.6 416.3M509.2 328.5L612.6 431.9M509.2 344.1L612.6 447.5M509.2 359.7L612.6 463.1M509.2 375.3L612.6 478.7M509.2 390.9L612.6 494.3M509.2 406.5L612.6 509.9M509.2 422.1L612.6 525.5M509.2 437.7L612.6 541.1M509.2 453.3L612.6 556.7M509.2 468.9L612.6 572.3M509.2 484.5L612.6 587.9M509.2 375.3L612.6 271.9M509.2 390.9L612.6 287.5M509.2 406.5L612.6 303.1M509.2 422.1L612.6 318.7M509.2 437.7L612.6 334.3M509.2 453.3L612.6 349.9M509.2 468.9L612.6 365.5M509.2 484.5L612.6 381.1M509.2 500.1L612.6 396.7M509.2 515.7L612.6 412.3M509.2 531.3L612.6 427.9M509.2 546.9L612.6 443.5M509.2 562.5L612.6 459.1M509.2 578.1L612.6 474.7M509.2 593.7L612.6 490.3" fill="none" stroke-width="1.8" stroke-linecap="round" stroke-dasharray="0.35 2.41"/>
<rect x="543.6" y="367.5" width="37.8" height="128.3" fill="none" stroke-width="1.2"/>
<rect x="465.8" y="495.8" width="116" height="7.5" fill="url(#hm)" stroke-width="1.2"/>
<polygon points="430.2,514.2 430.2,378.6 465.8,378.6 465.8,382.6 434.6,382.6 434.6,514.2" fill="url(#hf)" stroke-width="1.0"/>
<polygon points="617.3,514.2 617.3,378.6 581.8,378.6 581.8,382.6 612.9,382.6 612.9,514.2" fill="url(#hf)" stroke-width="1.0"/>
<rect x="430.8" y="514.2" width="18.6" height="7.6" fill="url(#hf)" stroke-width="1.1"/>
<rect x="598.3" y="514.4" width="18.7" height="7.4" fill="url(#hf)" stroke-width="1.1"/>
<rect x="423.3" y="521.8" width="51.7" height="3.8" fill="url(#hf)" stroke-width="1.1"/>
<rect x="572.8" y="521.8" width="51.4" height="3.8" fill="url(#hf)" stroke-width="1.1"/>
<line x1="475" y1="521.8" x2="572.8" y2="521.8" stroke-width="1.1"/>
<line x1="475" y1="525.6" x2="572.8" y2="525.6" stroke-width="1.1"/>
<rect x="449.4" y="525.6" width="25.6" height="3.6" fill="url(#hf)" stroke-width="1.1"/>
<rect x="572.8" y="525.6" width="25.5" height="3.6" fill="url(#hf)" stroke-width="1.1"/>
<line x1="475" y1="529.2" x2="572.8" y2="529.2" stroke-width="1.1"/>
<polyline points="449.4,529.2 430,546.4 423.3,546.4" fill="none" stroke-width="1.1"/>
<polyline points="598.3,529.2 618.5,546.4 624.2,546.4" fill="none" stroke-width="1.1"/>
<rect x="423.3" y="546.4" width="6.6" height="36.9" fill="url(#hf2)" stroke-width="1.1"/>
<rect x="618.5" y="546.4" width="5.7" height="36.9" fill="url(#hf2)" stroke-width="1.1"/>
<rect x="436.4" y="546.8" width="178.6" height="33" fill="none" stroke-width="1.2"/>
<line x1="429.9" y1="583.3" x2="618.5" y2="583.3" stroke-width="1.1"/>
<path d="M453 548.6 V570.9 H600.2 V548.6" fill="none" stroke-width="1.3" stroke-dasharray="4.2 3"/>
<rect x="510.8" y="571.6" width="28.4" height="8.2" fill="#fff" stroke-width="1.1"/>
<rect x="505" y="579.8" width="37.6" height="11.7" fill="#fff" stroke-width="1.1"/>
<rect x="478.6" y="590.3" width="92.8" height="4.2" fill="#000" stroke-width="0.4"/>
<polyline points="429.9,583.3 470,618.3" fill="none" stroke-width="1.1"/>
<polyline points="618.5,583.3 577.6,618.3" fill="none" stroke-width="1.1"/>
<polyline points="453.3,603.3 471.7,592.2 478.6,592.2" fill="none" stroke-width="1.1"/>
<polyline points="595,602.5 578.3,592.2 571.4,592.2" fill="none" stroke-width="1.1"/>
<polyline points="476.2,623.3 476.2,606.2 508.5,594.5" fill="none" stroke-width="1.1"/>
<polyline points="571.6,623.3 571.6,606.2 540,594.5" fill="none" stroke-width="1.1"/>
<line x1="490" y1="594.6" x2="504.6" y2="603.8" stroke-width="1.0"/>
<rect x="470" y="618.4" width="6.2" height="4.9" fill="url(#hf)" stroke-width="1.0"/>
<rect x="571.6" y="618.4" width="6.1" height="4.9" fill="url(#hf)" stroke-width="1.0"/>
<rect x="453.6" y="630.8" width="141.8" height="6.7" fill="none" stroke-width="1.1"/>
<rect x="424.5" y="630.8" width="7.7" height="5" fill="none" stroke-width="1.0"/>
<path d="M417.2 635.8 H439.2 V660.5 Q439.2 661.7 438.2 661.7 H432.7 V651.2 H423.7 V661.7 H418.2 Q417.2 661.7 417.2 660.5 Z" fill="#fff" stroke-width="1.6"/>
<line x1="417.2" y1="649.3" x2="439.2" y2="649.3" stroke-width="1.1"/>
<rect x="423.7" y="649.9" width="9" height="1.7" fill="#888" stroke-width="0.5"/>
<rect x="616.7" y="630.8" width="7.7" height="5" fill="none" stroke-width="1.0"/>
<path d="M609.4 635.8 H631.4 V660.5 Q631.4 661.7 630.4 661.7 H624.9 V651.2 H615.9 V661.7 H610.4 Q609.4 661.7 609.4 660.5 Z" fill="#fff" stroke-width="1.6"/>
<line x1="609.4" y1="649.3" x2="631.4" y2="649.3" stroke-width="1.1"/>
<rect x="615.9" y="649.9" width="9" height="1.7" fill="#888" stroke-width="0.5"/>
<circle cx="445.4" cy="509.4" r="66.4" fill="none" stroke-width="1.0"/>
<line x1="468" y1="404.5" x2="580" y2="404.5" stroke-width="1.1"/>
<polygon points="466.6,404.5 472.8,402.3 472.8,406.7" fill="#000" stroke-width="0.5"/>
<polygon points="581.3,404.5 575.1,406.7 575.1,402.3" fill="#000" stroke-width="0.5"/>
<text x="513" y="401.7" font-size="19.3">d</text>
<path d="M763 0H583V1147Q518 1085 412 1023T223 930V1104Q375 1175 489 1276T650 1472H763Z" transform="translate(523.73 401.7) scale(0.00942 -0.00942)" stroke="none" fill="#111"/>
<line x1="436.5" y1="433.5" x2="612" y2="433.5" stroke-width="1.1"/>
<polygon points="435.1,433.5 441.3,431.3 441.3,435.7" fill="#000" stroke-width="0.5"/>
<polygon points="613.3,433.5 607.1,435.7 607.1,431.3" fill="#000" stroke-width="0.5"/>
<text x="513" y="430.8" font-size="19.3" text-anchor="start">d2</text>
<text x="406.8" y="231.3" font-size="17.2" text-anchor="start">4</text>
<line x1="412.5" y1="233.8" x2="485" y2="358.5" stroke-width="1.15"/>
<text x="555.2" y="232" font-size="17.2" text-anchor="start">5</text>
<line x1="561" y1="234" x2="530" y2="287.5" stroke-width="1.15"/>
<text x="645.3" y="232" font-size="17.2" text-anchor="start">4</text>
<line x1="651" y1="234.6" x2="563.8" y2="351.3" stroke-width="1.15"/>
<text x="353.6" y="308" font-size="17.2" text-anchor="start">9</text>
<line x1="364.6" y1="302.1" x2="455" y2="354" stroke-width="1.15"/>
<text x="353.6" y="334.8" font-size="17.2" text-anchor="start">8</text>
<line x1="364.6" y1="329" x2="437.7" y2="370.4" stroke-width="1.15"/>
<path d="M763 0H583V1147Q518 1085 412 1023T223 930V1104Q375 1175 489 1276T650 1472H763Z" transform="translate(343.8 362.7) scale(0.00840 -0.00840)" stroke="none" fill="#111"/>
<text x="353.36" y="362.7" font-size="17.2">2</text>
<line x1="364.6" y1="356.9" x2="457" y2="376.2" stroke-width="1.15"/>
<text x="345" y="380" font-size="17.2">2</text>
<path d="M763 0H583V1147Q518 1085 412 1023T223 930V1104Q375 1175 489 1276T650 1472H763Z" transform="translate(354.56 380) scale(0.00840 -0.00840)" stroke="none" fill="#111"/>
<line x1="364.6" y1="375.2" x2="436.7" y2="411.7" stroke-width="1.15"/>
<path d="M763 0H583V1147Q518 1085 412 1023T223 930V1104Q375 1175 489 1276T650 1472H763Z" transform="translate(354.6 399.2) scale(0.00840 -0.00840)" stroke="none" fill="#111"/>
<line x1="364.6" y1="393.5" x2="418.5" y2="426.2" stroke-width="1.15"/>
<text x="354.4" y="439.2" font-size="17.2" text-anchor="start">7</text>
<line x1="364.6" y1="434.4" x2="430" y2="471" stroke-width="1.15"/>
<path d="M763 0H583V1147Q518 1085 412 1023T223 930V1104Q375 1175 489 1276T650 1472H763Z" transform="translate(343.8 481.5) scale(0.00840 -0.00840)" stroke="none" fill="#111"/>
<text x="353.36" y="481.5" font-size="17.2">9</text>
<line x1="364.6" y1="475.8" x2="432" y2="514.2" stroke-width="1.15"/>
<path d="M763 0H583V1147Q518 1085 412 1023T223 930V1104Q375 1175 489 1276T650 1472H763Z" transform="translate(343.8 532.5) scale(0.00840 -0.00840)" stroke="none" fill="#111"/>
<text x="353.36" y="532.5" font-size="17.2">2</text>
<line x1="364.6" y1="525.8" x2="430.5" y2="520" stroke-width="1.15"/>
<line x1="364.6" y1="525.8" x2="474" y2="527.5" stroke-width="1.15"/>
<line x1="364.6" y1="525.8" x2="424.2" y2="554.6" stroke-width="1.15"/>
<path d="M763 0H583V1147Q518 1085 412 1023T223 930V1104Q375 1175 489 1276T650 1472H763Z" transform="translate(343.8 561.3) scale(0.00840 -0.00840)" stroke="none" fill="#111"/>
<text x="353.36" y="561.3" font-size="17.2">5</text>
<line x1="364.6" y1="555.6" x2="464.6" y2="566.2" stroke-width="1.15"/>
<path d="M763 0H583V1147Q518 1085 412 1023T223 930V1104Q375 1175 489 1276T650 1472H763Z" transform="translate(344.6 613.8) scale(0.00840 -0.00840)" stroke="none" fill="#111"/>
<text x="354.16" y="613.8" font-size="17.2">7</text>
<line x1="366.5" y1="607.1" x2="428.1" y2="642.7" stroke-width="1.15"/>
<path d="M763 0H583V1147Q518 1085 412 1023T223 930V1104Q375 1175 489 1276T650 1472H763Z" transform="translate(431.2 695.6) scale(0.00840 -0.00840)" stroke="none" fill="#111"/>
<text x="440.76" y="695.6" font-size="17.2">4</text>
<line x1="440.6" y1="680.2" x2="468.5" y2="600.4" stroke-width="1.15"/>
<path d="M763 0H583V1147Q518 1085 412 1023T223 930V1104Q375 1175 489 1276T650 1472H763Z" transform="translate(477.8 697) scale(0.00840 -0.00840)" stroke="none" fill="#111"/>
<text x="487.36" y="697" font-size="17.2">2</text>
<line x1="488.4" y1="681.3" x2="472.3" y2="620.2" stroke-width="1.15"/>
<path d="M763 0H583V1147Q518 1085 412 1023T223 930V1104Q375 1175 489 1276T650 1472H763Z" transform="translate(520.4 697) scale(0.00840 -0.00840)" stroke="none" fill="#111"/>
<text x="529.96" y="697" font-size="17.2">6</text>
<line x1="531.5" y1="681.3" x2="520" y2="636.4" stroke-width="1.15"/>
<path d="M763 0H583V1147Q518 1085 412 1023T223 930V1104Q375 1175 489 1276T650 1472H763Z" transform="translate(556.7 697) scale(0.00840 -0.00840)" stroke="none" fill="#111"/>
<text x="566.26" y="697" font-size="17.2">3</text>
<line x1="566.7" y1="681.3" x2="535.1" y2="595.1" stroke-width="1.15"/>
<path d="M763 0H583V1147Q518 1085 412 1023T223 930V1104Q375 1175 489 1276T650 1472H763Z" transform="translate(577.8 697) scale(0.00840 -0.00840)" stroke="none" fill="#111"/>
<text x="587.36" y="697" font-size="17.2">2</text>
<line x1="585.4" y1="681.3" x2="576.4" y2="620.2" stroke-width="1.15"/>
<path d="M763 0H583V1147Q518 1085 412 1023T223 930V1104Q375 1175 489 1276T650 1472H763Z" transform="translate(603.3 697) scale(0.00840 -0.00840)" stroke="none" fill="#111"/>
<text x="612.86" y="697" font-size="17.2">4</text>
<line x1="610.5" y1="681.3" x2="576.4" y2="604.1" stroke-width="1.15"/>
<text x="682" y="296.2" font-size="17.2" text-anchor="start">9</text>
<line x1="681.8" y1="290.3" x2="598.5" y2="351.3" stroke-width="1.15"/>
<text x="682" y="320.5" font-size="17.2" text-anchor="start">2</text>
<line x1="681.8" y1="314.1" x2="620.3" y2="351.3" stroke-width="1.15"/>
<text x="682" y="342.3" font-size="17.2" text-anchor="start">6</text>
<line x1="681.8" y1="337.2" x2="630.5" y2="362.8" stroke-width="1.15"/>
<path d="M763 0H583V1147Q518 1085 412 1023T223 930V1104Q375 1175 489 1276T650 1472H763Z" transform="translate(682.1 374.4) scale(0.00840 -0.00840)" stroke="none" fill="#111"/>
<text x="691.66" y="374.4" font-size="17.2">8</text>
<line x1="681.8" y1="368" x2="599.7" y2="413.6" stroke-width="1.15"/>
<text x="682" y="402" font-size="17.2" text-anchor="start">8</text>
<line x1="681.8" y1="396.9" x2="581.8" y2="453.3" stroke-width="1.15"/>
<path d="M763 0H583V1147Q518 1085 412 1023T223 930V1104Q375 1175 489 1276T650 1472H763Z" transform="translate(682.1 443) scale(0.00840 -0.00840)" stroke="none" fill="#111"/>
<text x="691.66" y="443" font-size="17.2">0</text>
<line x1="681.8" y1="438" x2="578" y2="495.6" stroke-width="1.15"/>
<path d="M763 0H583V1147Q518 1085 412 1023T223 930V1104Q375 1175 489 1276T650 1472H763Z" transform="translate(682.1 477.7) scale(0.00840 -0.00840)" stroke="none" fill="#111"/>
<text x="691.66" y="477.7" font-size="17.2">9</text>
<line x1="681.8" y1="472.6" x2="610" y2="514.9" stroke-width="1.15"/>
<path d="M763 0H583V1147Q518 1085 412 1023T223 930V1104Q375 1175 489 1276T650 1472H763Z" transform="translate(682.1 504.6) scale(0.00840 -0.00840)" stroke="none" fill="#111"/>
<path d="M763 0H583V1147Q518 1085 412 1023T223 930V1104Q375 1175 489 1276T650 1472H763Z" transform="translate(691.66 504.6) scale(0.00840 -0.00840)" stroke="none" fill="#111"/>
<line x1="681.8" y1="498.2" x2="607.9" y2="540.4" stroke-width="1.15"/>
<path d="M763 0H583V1147Q518 1085 412 1023T223 930V1104Q375 1175 489 1276T650 1472H763Z" transform="translate(682.1 536.6) scale(0.00840 -0.00840)" stroke="none" fill="#111"/>
<text x="691.66" y="536.6" font-size="17.2">2</text>
<line x1="681" y1="529.8" x2="617.5" y2="520.8" stroke-width="1.15"/>
<line x1="681" y1="529.8" x2="598.3" y2="527.5" stroke-width="1.15"/>
<line x1="681" y1="529.8" x2="622.8" y2="562.3" stroke-width="1.15"/>
<text x="682.4" y="597.1" font-size="17.2" text-anchor="start">3</text>
<line x1="681.9" y1="594.2" x2="624.2" y2="626" stroke-width="1.15"/>
<path d="M763 0H583V1147Q518 1085 412 1023T223 930V1104Q375 1175 489 1276T650 1472H763Z" transform="translate(682.1 617.3) scale(0.00840 -0.00840)" stroke="none" fill="#111"/>
<text x="691.66" y="617.3" font-size="17.2">7</text>
<line x1="681.9" y1="611.5" x2="625.2" y2="644.2" stroke-width="1.15"/>
<text x="374.2" y="958.7" font-size="18.6" text-anchor="start" textLength="49.5" lengthAdjust="spacingAndGlyphs">Фиг.4</text></g></svg>
</body></html>
